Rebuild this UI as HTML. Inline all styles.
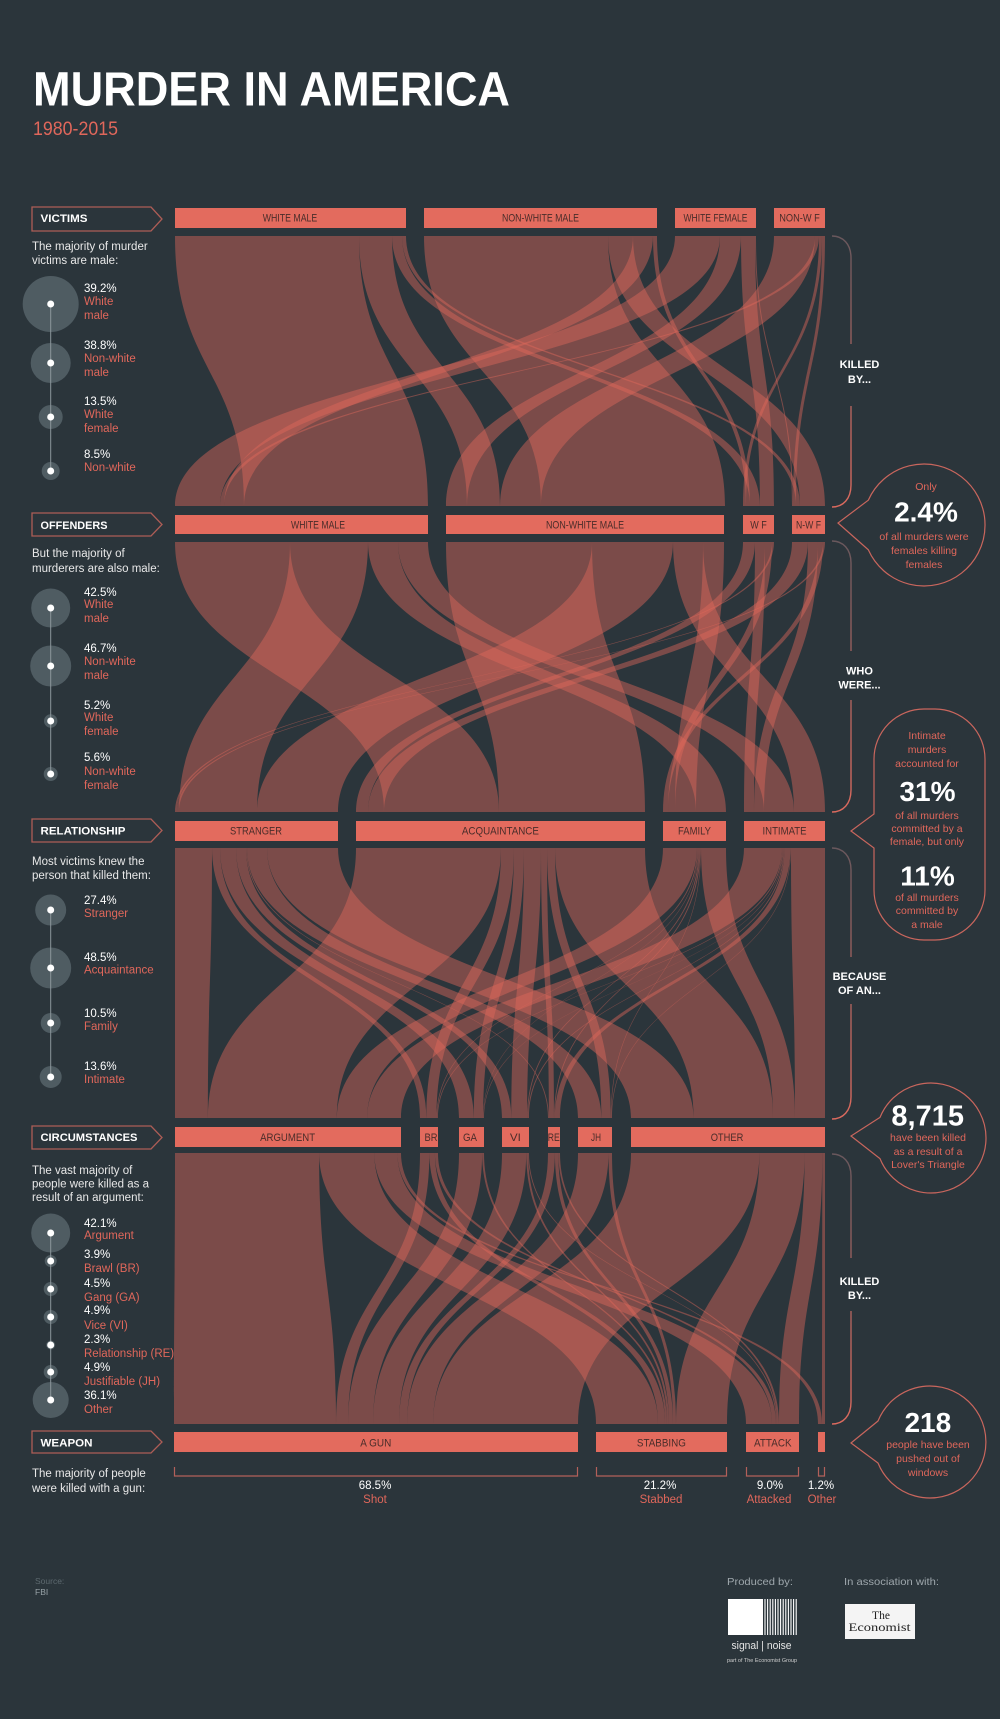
<!DOCTYPE html>
<html><head><meta charset="utf-8"><style>
html,body{margin:0;padding:0;background:#2b353b;}
svg{display:block;}
</style></head><body>
<svg width="1000" height="1719" viewBox="0 0 1000 1719" xmlns="http://www.w3.org/2000/svg" font-family="'Liberation Sans', Arial, sans-serif">
<defs>
<linearGradient id="b1" gradientUnits="userSpaceOnUse" x1="0" y1="236" x2="0" y2="507"><stop offset="0" stop-color="#6a585d"/><stop offset="1" stop-color="#dc6a5e"/></linearGradient>
<linearGradient id="b2" gradientUnits="userSpaceOnUse" x1="0" y1="541" x2="0" y2="812"><stop offset="0" stop-color="#6a585d"/><stop offset="1" stop-color="#dc6a5e"/></linearGradient>
<linearGradient id="b3" gradientUnits="userSpaceOnUse" x1="0" y1="848" x2="0" y2="1119"><stop offset="0" stop-color="#6a585d"/><stop offset="1" stop-color="#dc6a5e"/></linearGradient>
<linearGradient id="b4" gradientUnits="userSpaceOnUse" x1="0" y1="1154" x2="0" y2="1424"><stop offset="0" stop-color="#6a585d"/><stop offset="1" stop-color="#dc6a5e"/></linearGradient>
</defs>
<rect width="1000" height="1719" fill="#2b353b"/>

<!-- Title -->
<text x="33" y="105.5" font-size="48" font-weight="bold" fill="#ffffff" textLength="477" lengthAdjust="spacingAndGlyphs">MURDER IN AMERICA</text>
<text x="33" y="135" font-size="19" fill="#e0675b" textLength="85" lengthAdjust="spacingAndGlyphs">1980-2015</text>

<!-- Left header boxes -->
<g fill="none" stroke="#ad5d56" stroke-width="1.3">
<path d="M32,207 H151 L162,219 L151,231 H32 Z"/>
<path d="M32,513 H151 L162,524.5 L151,536 H32 Z"/>
<path d="M32,819 H151 L162,830.5 L151,842 H32 Z"/>
<path d="M32,1126 H151 L162,1137.5 L151,1149 H32 Z"/>
<path d="M32,1431 H151 L162,1442 L151,1453 H32 Z"/>
</g>
<g font-size="11" font-weight="bold" fill="#ffffff">
<text x="40.5" y="222" textLength="47" lengthAdjust="spacingAndGlyphs">VICTIMS</text>
<text x="40.5" y="529" textLength="67" lengthAdjust="spacingAndGlyphs">OFFENDERS</text>
<text x="40.5" y="834.5" textLength="85" lengthAdjust="spacingAndGlyphs">RELATIONSHIP</text>
<text x="40.5" y="1141" textLength="97" lengthAdjust="spacingAndGlyphs">CIRCUMSTANCES</text>
<text x="40.5" y="1446.5" textLength="52" lengthAdjust="spacingAndGlyphs">WEAPON</text>
</g>

<!-- Left descriptions -->
<g font-size="11.5" fill="#e8e8e8">
<text x="32" y="250">The majority of murder</text>
<text x="32" y="264">victims are male:</text>
<text x="32" y="557">But the majority of</text>
<text x="32" y="572">murderers are also male:</text>
<text x="32" y="865">Most victims knew the</text>
<text x="32" y="879">person that killed them:</text>
<text x="32" y="1174">The vast majority of</text>
<text x="32" y="1187.5">people were killed as a</text>
<text x="32" y="1201">result of an argument:</text>
<text x="32" y="1477">The majority of people</text>
<text x="32" y="1492">were killed with a gun:</text>
</g>

<!-- Left circles -->
<g fill="#56636a" fill-opacity="0.85">
<circle cx="50.7" cy="304" r="28"/><circle cx="50.7" cy="363" r="20"/><circle cx="50.7" cy="417" r="12"/><circle cx="50.7" cy="471" r="9"/>
<circle cx="50.7" cy="608" r="19.5"/><circle cx="50.7" cy="666" r="20.5"/><circle cx="50.7" cy="721" r="6.7"/><circle cx="50.7" cy="774" r="7"/>
<circle cx="50.7" cy="910" r="15.5"/><circle cx="50.7" cy="968" r="20.5"/><circle cx="50.7" cy="1023" r="10"/><circle cx="50.7" cy="1077" r="11"/>
<circle cx="50.7" cy="1233" r="19.5"/><circle cx="50.7" cy="1261" r="6"/><circle cx="50.7" cy="1289" r="7"/><circle cx="50.7" cy="1317" r="7"/><circle cx="50.7" cy="1345" r="4.5"/><circle cx="50.7" cy="1372" r="7"/><circle cx="50.7" cy="1400" r="18"/>
</g>
<g stroke="#8c979c" stroke-width="1">
<line x1="50.7" y1="304" x2="50.7" y2="471"/>
<line x1="50.7" y1="608" x2="50.7" y2="774"/>
<line x1="50.7" y1="910" x2="50.7" y2="1077"/>
<line x1="50.7" y1="1233" x2="50.7" y2="1400"/>
</g>
<g fill="#ffffff">
<circle cx="50.7" cy="304" r="3.5"/><circle cx="50.7" cy="363" r="3.5"/><circle cx="50.7" cy="417" r="3.5"/><circle cx="50.7" cy="471" r="3.5"/>
<circle cx="50.7" cy="608" r="3.5"/><circle cx="50.7" cy="666" r="3.5"/><circle cx="50.7" cy="721" r="3.5"/><circle cx="50.7" cy="774" r="3.5"/>
<circle cx="50.7" cy="910" r="3.5"/><circle cx="50.7" cy="968" r="3.5"/><circle cx="50.7" cy="1023" r="3.5"/><circle cx="50.7" cy="1077" r="3.5"/>
<circle cx="50.7" cy="1233" r="3.5"/><circle cx="50.7" cy="1261" r="3.5"/><circle cx="50.7" cy="1289" r="3.5"/><circle cx="50.7" cy="1317" r="3.5"/><circle cx="50.7" cy="1345" r="3.5"/><circle cx="50.7" cy="1372" r="3.5"/><circle cx="50.7" cy="1400" r="3.5"/>
</g>

<!-- Left percentages -->
<g font-size="11.5" fill="#ffffff">
<text x="84" y="292">39.2%</text><text x="84" y="349">38.8%</text><text x="84" y="405">13.5%</text><text x="84" y="458">8.5%</text>
<text x="84" y="596">42.5%</text><text x="84" y="652">46.7%</text><text x="84" y="709">5.2%</text><text x="84" y="761">5.6%</text>
<text x="84" y="904">27.4%</text><text x="84" y="961">48.5%</text><text x="84" y="1017">10.5%</text><text x="84" y="1070">13.6%</text>
<text x="84" y="1227">42.1%</text><text x="84" y="1258">3.9%</text><text x="84" y="1287">4.5%</text><text x="84" y="1314">4.9%</text><text x="84" y="1343">2.3%</text><text x="84" y="1371">4.9%</text><text x="84" y="1399">36.1%</text>
</g>
<g font-size="11.5" fill="#e0675b">
<text x="84" y="305">White</text><text x="84" y="319">male</text>
<text x="84" y="362">Non-white</text><text x="84" y="376">male</text>
<text x="84" y="418">White</text><text x="84" y="432">female</text>
<text x="84" y="471">Non-white</text>
<text x="84" y="608">White</text><text x="84" y="622">male</text>
<text x="84" y="665">Non-white</text><text x="84" y="679">male</text>
<text x="84" y="721">White</text><text x="84" y="735">female</text>
<text x="84" y="775">Non-white</text><text x="84" y="789">female</text>
<text x="84" y="917">Stranger</text>
<text x="84" y="973.5">Acquaintance</text>
<text x="84" y="1030">Family</text>
<text x="84" y="1083">Intimate</text>
<text x="84" y="1239">Argument</text>
<text x="84" y="1272">Brawl (BR)</text>
<text x="84" y="1301">Gang (GA)</text>
<text x="84" y="1329">Vice (VI)</text>
<text x="84" y="1357">Relationship (RE)</text>
<text x="84" y="1385">Justifiable (JH)</text>
<text x="84" y="1413">Other</text>
</g>

<!-- FLOWS (filled ribbons) -->
<g fill="#e2685c" fill-opacity="0.44" stroke="none">
<!-- Section 1 -->
<path d="M175,236C175,371 244,371 244,506L428,506C428,371 359,371 359,236Z"/>
<path d="M359,236C359,371 467,371 467,506L500,506C500,371 392,371 392,236Z"/>
<path d="M392,236C392,371 750,371 750,506L760,506C760,371 402,371 402,236Z"/>
<path d="M402,236C402,371 796,371 796,506L800,506C800,371 406,371 406,236Z"/>
<path d="M424,236C424,371 541,371 541,506L725,506C725,371 608,371 608,236Z"/>
<path d="M608,236C608,371 800,371 800,506L825,506C825,371 633,371 633,236Z"/>
<path d="M633,236C633,371 224,371 224,506L244,506C244,371 653,371 653,236Z"/>
<path d="M653,236C653,371 746,371 746,506L750,506C750,371 657,371 657,236Z"/>
<path d="M675,236C675,371 175,371 175,506L220,506C220,371 720,371 720,236Z"/>
<path d="M720,236C720,371 446,371 446,506L467,506C467,371 741,371 741,236Z"/>
<path d="M741,236C741,371 760,371 760,506L774,506C774,371 755,371 755,236Z"/>
<path d="M755,236C755,371 792,371 792,506L793,506C793,371 756,371 756,236Z"/>
<path d="M774,236C774,371 500,371 500,506L541,506C541,371 815,371 815,236Z"/>
<path d="M815,236C815,371 220,371 220,506L224,506C224,371 819,371 819,236Z"/>
<path d="M819,236C819,371 743,371 743,506L746,506C746,371 822,371 822,236Z"/>
<path d="M822,236C822,371 793,371 793,506L796,506C796,371 825,371 825,236Z"/>
<!-- Section 2 -->
<path d="M175,542C175,677 384,677 384,812L499,812C499,677 290,677 290,542Z"/>
<path d="M290,542C290,677 179,677 179,812L257,812C257,677 368,677 368,542Z"/>
<path d="M368,542C368,677 696,677 696,812L726,812C726,677 398,677 398,542Z"/>
<path d="M398,542C398,677 764,677 764,812L794,812C794,677 428,677 428,542Z"/>
<path d="M446,542C446,677 499,677 499,812L645,812C645,677 592,677 592,542Z"/>
<path d="M592,542C592,677 257,677 257,812L338,812C338,677 673,677 673,542Z"/>
<path d="M673,542C673,677 794,677 794,812L825,812C825,677 703,677 703,542Z"/>
<path d="M703,542C703,677 675,677 675,812L696,812C696,677 724,677 724,542Z"/>
<path d="M743,542C743,677 356,677 356,812L368,812C368,677 755,677 755,542Z"/>
<path d="M755,542C755,677 744,677 744,812L754,812C754,677 765,677 765,542Z"/>
<path d="M765,542C765,677 668,677 668,812L675,812C675,677 772,677 772,542Z"/>
<path d="M772,542C772,677 175,677 175,812L177,812C177,677 774,677 774,542Z"/>
<path d="M792,542C792,677 368,677 368,812L384,812C384,677 808,677 808,542Z"/>
<path d="M808,542C808,677 754,677 754,812L764,812C764,677 818,677 818,542Z"/>
<path d="M818,542C818,677 663,677 663,812L668,812C668,677 823,677 823,542Z"/>
<path d="M823,542C823,677 177,677 177,812L179,812C179,677 825,677 825,542Z"/>
<!-- Section 3 -->
<path d="M175,848C175,983 175,983 175,1118L207.9,1118C207.9,983 212,983 212,848Z"/>
<path d="M212,848C212,983 420,983 420,1118L426.3,1118C426.3,983 220,983 220,848Z"/>
<path d="M220,848C220,983 459,983 459,1118L473.8,1118C473.8,983 236,983 236,848Z"/>
<path d="M236,848C236,983 502,983 502,1118L511.3,1118C511.3,983 246,983 246,848Z"/>
<path d="M246,848C246,983 548,983 548,1118L548.9,1118C548.9,983 247,983 247,848Z"/>
<path d="M247,848C247,983 578,983 578,1118L601.4,1118C601.4,983 267,983 267,848Z"/>
<path d="M267,848C267,983 631,983 631,1118L693.6,1118C693.6,983 338,983 338,848Z"/>
<path d="M356,848C356,983 207.9,983 207.9,1118L336.9,1118C336.9,983 501,983 501,848Z"/>
<path d="M501,848C501,983 426.3,983 426.3,1118L436.5,1118C436.5,983 514,983 514,848Z"/>
<path d="M514,848C514,983 473.8,983 473.8,1118L483.1,1118C483.1,983 524,983 524,848Z"/>
<path d="M524,848C524,983 511.3,983 511.3,1118L527.1,1118C527.1,983 541,983 541,848Z"/>
<path d="M541,848C541,983 548.9,983 548.9,1118L554,1118C554,983 547,983 547,848Z"/>
<path d="M547,848C547,983 601.4,983 601.4,1118L610.8,1118C610.8,983 555,983 555,848Z"/>
<path d="M555,848C555,983 693.6,983 693.6,1118L773,1118C773,983 645,983 645,848Z"/>
<path d="M663,848C663,983 336.9,983 336.9,1118L367.2,1118C367.2,983 697,983 697,848Z"/>
<path d="M697,848C697,983 436.5,983 436.5,1118L437.2,1118C437.2,983 698,983 698,848Z"/>
<path d="M698,848C698,983 483.1,983 483.1,1118L483.5,1118C483.5,983 698.5,983 698.5,848Z"/>
<path d="M698.5,848C698.5,983 527.1,983 527.1,1118L528,1118C528,983 699.5,983 699.5,848Z"/>
<path d="M699.5,848C699.5,983 554,983 554,1118L554.9,1118C554.9,983 700.5,983 700.5,848Z"/>
<path d="M700.5,848C700.5,983 610.8,983 610.8,1118L611.4,1118C611.4,983 701,983 701,848Z"/>
<path d="M701,848C701,983 773,983 773,1118L795,1118C795,983 726,983 726,848Z"/>
<path d="M744,848C744,983 367.2,983 367.2,1118L401,1118C401,983 782,983 782,848Z"/>
<path d="M782,848C782,983 437.2,983 437.2,1118L438,1118C438,983 783,983 783,848Z"/>
<path d="M783,848C783,983 483.5,983 483.5,1118L484,1118C484,983 783.5,983 783.5,848Z"/>
<path d="M783.5,848C783.5,983 528,983 528,1118L529,1118C529,983 784.5,983 784.5,848Z"/>
<path d="M784.5,848C784.5,983 554.9,983 554.9,1118L560,1118C560,983 790.5,983 790.5,848Z"/>
<path d="M790.5,848C790.5,983 611.4,983 611.4,1118L612,1118C612,983 791,983 791,848Z"/>
<path d="M791,848C791,983 795,983 795,1118L825,1118C825,983 825,983 825,848Z"/>
<!-- Section 4 -->
<path d="M175,1153C175,1288.5 174,1288.5 174,1424L336,1424C336,1288.5 319.1,1288.5 319.1,1153Z"/>
<path d="M319.1,1153C319.1,1288.5 596,1288.5 596,1424L658,1424C658,1288.5 374.3,1288.5 374.3,1153Z"/>
<path d="M374.3,1153C374.3,1288.5 746,1288.5 746,1424L772,1424C772,1288.5 397.4,1288.5 397.4,1153Z"/>
<path d="M397.4,1153C397.4,1288.5 818,1288.5 818,1424L822,1424C822,1288.5 401,1288.5 401,1153Z"/>
<path d="M420,1153C420,1288.5 336,1288.5 336,1424L348,1424C348,1288.5 429.4,1288.5 429.4,1153Z"/>
<path d="M429.4,1153C429.4,1288.5 658,1288.5 658,1424L665,1424C665,1288.5 434.9,1288.5 434.9,1153Z"/>
<path d="M434.9,1153C434.9,1288.5 772,1288.5 772,1424L776,1424C776,1288.5 438,1288.5 438,1153Z"/>
<path d="M459,1153C459,1288.5 348,1288.5 348,1424L373,1424C373,1288.5 482.1,1288.5 482.1,1153Z"/>
<path d="M482.1,1153C482.1,1288.5 665,1288.5 665,1424L667,1424C667,1288.5 484,1288.5 484,1153Z"/>
<path d="M502,1153C502,1288.5 373,1288.5 373,1424L399,1424C399,1288.5 526.2,1288.5 526.2,1153Z"/>
<path d="M526.2,1153C526.2,1288.5 667,1288.5 667,1424L669,1424C669,1288.5 528.1,1288.5 528.1,1153Z"/>
<path d="M528.1,1153C528.1,1288.5 776,1288.5 776,1424L777,1424C777,1288.5 529,1288.5 529,1153Z"/>
<path d="M548,1153C548,1288.5 399,1288.5 399,1424L407,1424C407,1288.5 554.9,1288.5 554.9,1153Z"/>
<path d="M554.9,1153C554.9,1288.5 669,1288.5 669,1424L673,1424C673,1288.5 558.3,1288.5 558.3,1153Z"/>
<path d="M558.3,1153C558.3,1288.5 777,1288.5 777,1424L779,1424C779,1288.5 560,1288.5 560,1153Z"/>
<path d="M578,1153C578,1288.5 407,1288.5 407,1424L433,1424C433,1288.5 608.5,1288.5 608.5,1153Z"/>
<path d="M608.5,1153C608.5,1288.5 673,1288.5 673,1424L676,1424C676,1288.5 612,1288.5 612,1153Z"/>
<path d="M631,1153C631,1288.5 433,1288.5 433,1424L578,1424C578,1288.5 759.4,1288.5 759.4,1153Z"/>
<path d="M759.4,1153C759.4,1288.5 676,1288.5 676,1424L727,1424C727,1288.5 804.6,1288.5 804.6,1153Z"/>
<path d="M804.6,1153C804.6,1288.5 779,1288.5 779,1424L799,1424C799,1288.5 822.3,1288.5 822.3,1153Z"/>
<path d="M822.3,1153C822.3,1288.5 822,1288.5 822,1424L825,1424C825,1288.5 825,1288.5 825,1153Z"/>
</g>

<!-- Bars -->
<g fill="#e36b5e">
<rect x="175" y="208" width="231" height="20"/><rect x="424" y="208" width="233" height="20"/><rect x="675" y="208" width="81" height="20"/><rect x="774" y="208" width="51" height="20"/>
<rect x="175" y="515" width="253" height="19"/><rect x="446" y="515" width="278" height="19"/><rect x="743" y="515" width="31" height="19"/><rect x="792" y="515" width="33" height="19"/>
<rect x="175" y="821" width="163" height="20"/><rect x="356" y="821" width="289" height="20"/><rect x="663" y="821" width="63" height="20"/><rect x="744" y="821" width="81" height="20"/>
<rect x="175" y="1127" width="226" height="20"/><rect x="420" y="1127" width="18" height="20"/><rect x="459" y="1127" width="25" height="20"/><rect x="502" y="1127" width="27" height="20"/><rect x="548" y="1127" width="12" height="20"/><rect x="578" y="1127" width="34" height="20"/><rect x="631" y="1127" width="194" height="20"/>
<rect x="174" y="1432" width="404" height="20"/><rect x="596" y="1432" width="131" height="20"/><rect x="746" y="1432" width="53" height="20"/><rect x="818" y="1432" width="7" height="20"/>
</g>
<g font-size="11" fill="#4a2d2a" text-anchor="middle">
<text x="290" y="221.7" textLength="54.5" lengthAdjust="spacingAndGlyphs">WHITE MALE</text>
<text x="540.5" y="221.7" textLength="77" lengthAdjust="spacingAndGlyphs">NON-WHITE MALE</text>
<text x="715.5" y="221.7" textLength="64" lengthAdjust="spacingAndGlyphs">WHITE FEMALE</text>
<text x="799.5" y="221.7" textLength="40.6" lengthAdjust="spacingAndGlyphs">NON-W F</text>
<text x="318" y="528.3" textLength="54" lengthAdjust="spacingAndGlyphs">WHITE MALE</text>
<text x="585" y="528.3" textLength="78" lengthAdjust="spacingAndGlyphs">NON-WHITE MALE</text>
<text x="758.5" y="528.3" textLength="16.5" lengthAdjust="spacingAndGlyphs">W F</text>
<text x="808.5" y="528.3" textLength="25" lengthAdjust="spacingAndGlyphs">N-W F</text>
<text x="256" y="834.3" textLength="52" lengthAdjust="spacingAndGlyphs">STRANGER</text>
<text x="500.4" y="834.3" textLength="77" lengthAdjust="spacingAndGlyphs">ACQUAINTANCE</text>
<text x="694.5" y="834.3" textLength="33" lengthAdjust="spacingAndGlyphs">FAMILY</text>
<text x="784.5" y="834.3" textLength="44" lengthAdjust="spacingAndGlyphs">INTIMATE</text>
<text x="287.6" y="1141" textLength="55" lengthAdjust="spacingAndGlyphs">ARGUMENT</text>
<text x="431" y="1141" textLength="13" lengthAdjust="spacingAndGlyphs">BR</text>
<text x="470" y="1141" textLength="14" lengthAdjust="spacingAndGlyphs">GA</text>
<text x="515.4" y="1141" textLength="11" lengthAdjust="spacingAndGlyphs">VI</text>
<text x="553.8" y="1141" textLength="12" lengthAdjust="spacingAndGlyphs">RE</text>
<text x="596" y="1141" textLength="10" lengthAdjust="spacingAndGlyphs">JH</text>
<text x="727" y="1141" textLength="32.6" lengthAdjust="spacingAndGlyphs">OTHER</text>
<text x="375.8" y="1446.7" textLength="31" lengthAdjust="spacingAndGlyphs">A GUN</text>
<text x="661.4" y="1446.7" textLength="49" lengthAdjust="spacingAndGlyphs">STABBING</text>
<text x="772.8" y="1446.7" textLength="37.5" lengthAdjust="spacingAndGlyphs">ATTACK</text>
</g>

<!-- Braces -->
<g fill="none" stroke-width="1.4">
<path stroke="url(#b1)" d="M832,236 C843,236 851,244 851,258 V344 M851,406 V485 C851,499 843,507 832,507"/>
<path stroke="url(#b2)" d="M832,541 C843,541 851,549 851,563 V651 M851,700 V790 C851,804 843,812 832,812"/>
<path stroke="url(#b3)" d="M832,848 C843,848 851,856 851,870 V957 M851,1004 V1097 C851,1111 843,1119 832,1119"/>
<path stroke="url(#b4)" d="M832,1154 C843,1154 851,1162 851,1176 V1258 M851,1311 V1402 C851,1416 843,1424 832,1424"/>
</g>
<g font-size="11" font-weight="bold" fill="#ffffff" text-anchor="middle">
<text x="859.5" y="368">KILLED</text><text x="859.5" y="383">BY...</text>
<text x="859.5" y="674.5">WHO</text><text x="859.5" y="688.5">WERE...</text>
<text x="859.5" y="980">BECAUSE</text><text x="859.5" y="994">OF AN...</text>
<text x="859.5" y="1285">KILLED</text><text x="859.5" y="1299">BY...</text>
</g>

<!-- Callouts -->
<g fill="none" stroke="#c9665d" stroke-width="1.2">
<path d="M868.3,500.2 L838,523 L868.3,549.8 A61,61 0 1 0 868.3,500.2 Z"/>
<path d="M924,709 H935 A50,50 0 0 1 985,759 V890 A50,50 0 0 1 935,940 H924 A50,50 0 0 1 874,890 V848 L851,831 L874,814 V759 A50,50 0 0 1 924,709 Z"/>
<path d="M880,1117.4 L851,1136 L880,1158.6 A55,55 0 1 0 880,1117.4 Z"/>
<path d="M878,1421 L851,1443 L878,1463 A56,56 0 1 0 878,1421 Z"/>
</g>
<g font-size="10.5" fill="#e0675b" text-anchor="middle">
<text x="926" y="490">Only</text>
<text x="924" y="540">of all murders were</text>
<text x="924" y="554">females killing</text>
<text x="924" y="568">females</text>
<text x="927" y="739">Intimate</text>
<text x="927" y="753">murders</text>
<text x="927" y="767">accounted for</text>
<text x="927" y="819">of all murders</text>
<text x="927" y="832">committed by a</text>
<text x="927" y="845">female, but only</text>
<text x="927" y="901">of all murders</text>
<text x="927" y="914">committed by</text>
<text x="927" y="928">a male</text>
<text x="928" y="1141">have been killed</text>
<text x="928" y="1155">as a result of a</text>
<text x="928" y="1168">Lover's Triangle</text>
<text x="928" y="1448">people have been</text>
<text x="928" y="1462">pushed out of</text>
<text x="928" y="1476">windows</text>
</g>
<g font-size="28" font-weight="bold" fill="#ffffff" text-anchor="middle">
<text x="926" y="521.5">2.4%</text>
<text x="927.5" y="801">31%</text>
<text x="927.5" y="885.5">11%</text>
<text x="927.7" y="1125.7" font-size="29">8,715</text>
<text x="927.8" y="1432">218</text>
</g>

<!-- Weapon brackets -->
<g fill="none" stroke="#b3605a" stroke-width="1.2">
<path d="M174.5,1467 V1476 H577.5 V1467"/>
<path d="M596.5,1467 V1476 H726.5 V1467"/>
<path d="M746.5,1467 V1476 H798.5 V1467"/>
<path d="M818.5,1467 V1476 H824.5 V1467"/>
</g>
<g font-size="11.5" text-anchor="middle">
<text x="375" y="1489" fill="#ffffff">68.5%</text>
<text x="660" y="1489" fill="#ffffff">21.2%</text>
<text x="770" y="1489" fill="#ffffff">9.0%</text>
<text x="821" y="1489" fill="#ffffff">1.2%</text>
<text x="375" y="1503" fill="#e0675b">Shot</text>
<text x="661" y="1503" fill="#e0675b">Stabbed</text>
<text x="769" y="1503" fill="#e0675b">Attacked</text>
<text x="822" y="1503" fill="#e0675b">Other</text>
</g>

<!-- Footer -->
<text x="35" y="1584" font-size="8.5" fill="#5d696f">Source:</text>
<text x="35" y="1595" font-size="8.5" fill="#98a2a7">FBI</text>
<text x="727" y="1585" font-size="10.5" fill="#9ea7ac" textLength="66" lengthAdjust="spacingAndGlyphs">Produced by:</text>
<text x="844" y="1585" font-size="10.5" fill="#9ea7ac" textLength="95" lengthAdjust="spacingAndGlyphs">In association with:</text>
<rect x="728" y="1599" width="35" height="36" fill="#ffffff"/>
<g stroke="#ffffff" stroke-width="1.1">
<line x1="765" y1="1599" x2="765" y2="1635"/><line x1="767.6" y1="1599" x2="767.6" y2="1635"/><line x1="770.2" y1="1599" x2="770.2" y2="1635"/><line x1="772.8" y1="1599" x2="772.8" y2="1635"/><line x1="775.4" y1="1599" x2="775.4" y2="1635"/><line x1="778" y1="1599" x2="778" y2="1635"/><line x1="780.6" y1="1599" x2="780.6" y2="1635"/><line x1="783.2" y1="1599" x2="783.2" y2="1635"/><line x1="785.8" y1="1599" x2="785.8" y2="1635"/><line x1="788.4" y1="1599" x2="788.4" y2="1635"/><line x1="791" y1="1599" x2="791" y2="1635"/><line x1="793.6" y1="1599" x2="793.6" y2="1635"/><line x1="796.2" y1="1599" x2="796.2" y2="1635"/>
</g>
<text x="731.5" y="1649" font-size="11" fill="#e6e6e6" textLength="60" lengthAdjust="spacingAndGlyphs">signal | noise</text>
<text x="727" y="1662" font-size="5" fill="#cfcfcf" textLength="70" lengthAdjust="spacingAndGlyphs">part of The Economist Group</text>
<rect x="845" y="1604" width="70" height="35" fill="#f4f4f4"/>
<text x="881" y="1619" font-family="'Liberation Serif', serif" font-size="11.5" fill="#222" text-anchor="middle">The</text>
<text x="879.5" y="1631" font-family="'Liberation Serif', serif" font-size="12" fill="#222" text-anchor="middle" textLength="62" lengthAdjust="spacingAndGlyphs">Economist</text>
</svg>
</body></html>
